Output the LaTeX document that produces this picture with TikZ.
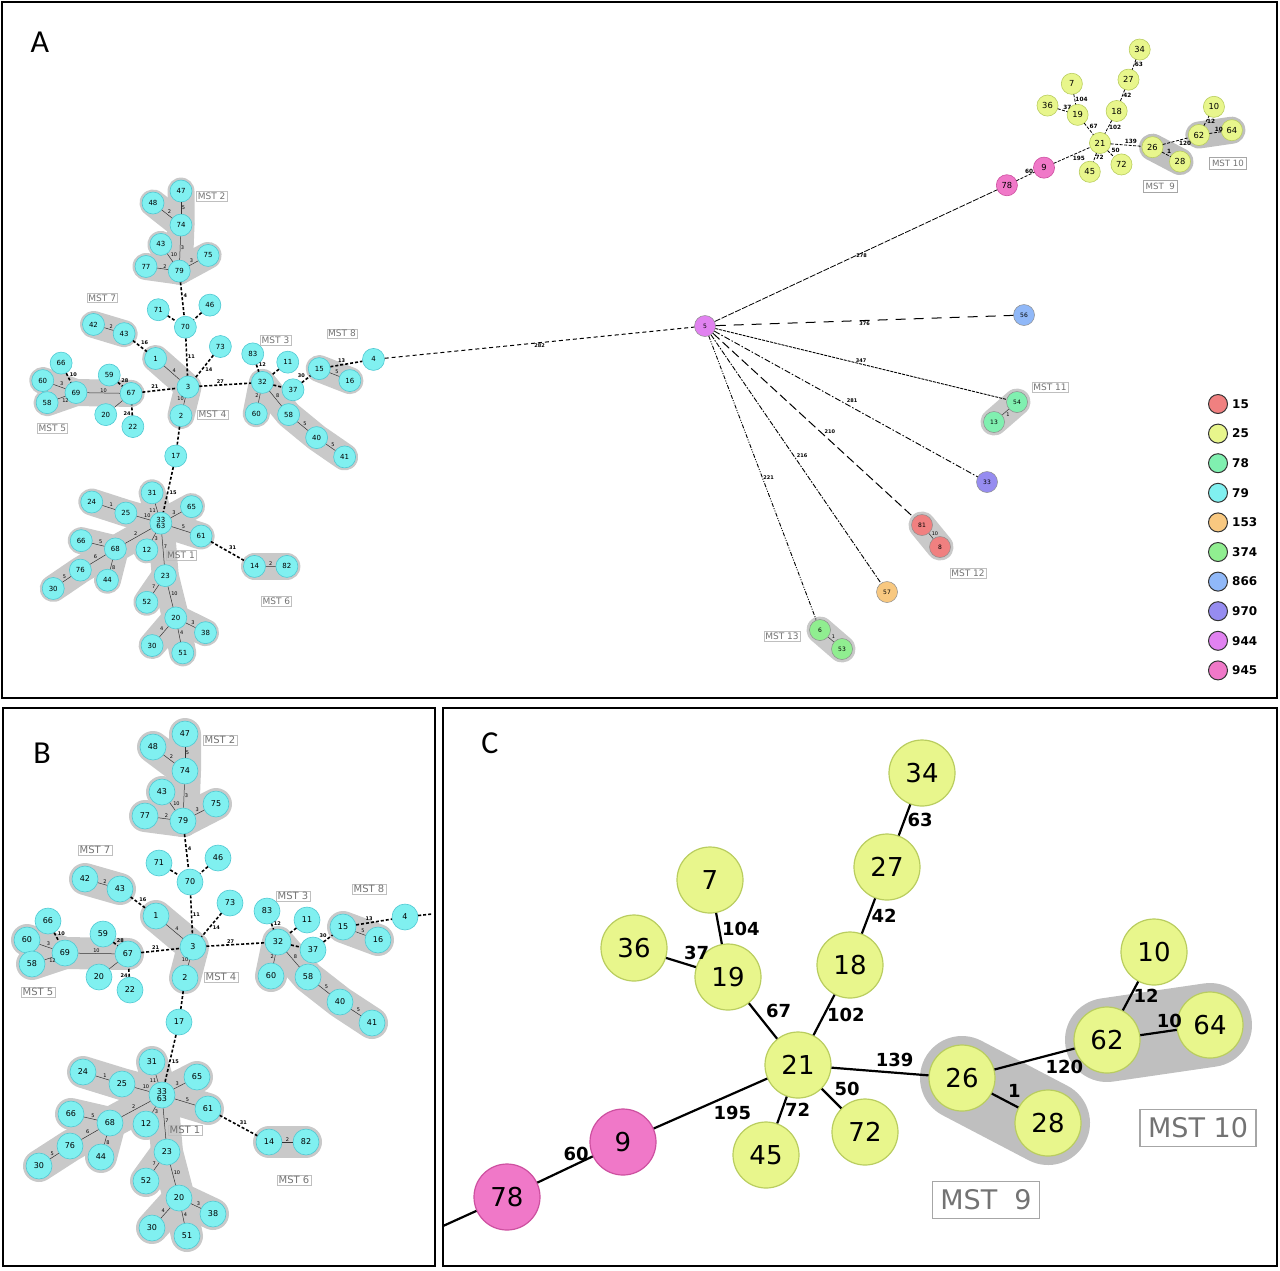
\documentclass[tikz,border=0pt]{standalone}
\usepackage{fontspec}
\setmainfont{DejaVu Sans}
\newfontfamily\panelfont{Carlito}
\usepackage{tikz}
\pgfdeclarelayer{bg}
\pgfsetlayers{bg,main}

\definecolor{cyanfill}{RGB}{128,240,240}
\definecolor{cyanline}{RGB}{80,200,210}
\definecolor{yelfill}{RGB}{232,246,140}
\definecolor{yelline}{RGB}{185,205,95}
\definecolor{pinkfill}{RGB}{240,120,200}
\definecolor{pinkline}{RGB}{205,80,160}
\definecolor{st15}{RGB}{240,128,128}
\definecolor{st78}{RGB}{128,240,176}
\definecolor{st153}{RGB}{248,200,128}
\definecolor{st374}{RGB}{144,238,144}
\definecolor{st866}{RGB}{144,184,248}
\definecolor{st970}{RGB}{150,140,240}
\definecolor{st944}{RGB}{225,130,240}

\tikzset{
  cn/.style={circle, fill=cyanfill, draw=cyanline, line width=0.6pt, inner sep=0pt, minimum size=26, font=\fontsize{8}{8}\selectfont},
  sn/.style={circle, draw=black!45, line width=0.5pt, inner sep=0pt, minimum size=21, font=\fontsize{6}{6}\selectfont},
  ln/.style={line width=0.5pt, draw=black!80},
  lk/.style={line width=1.6pt, dash pattern=on 3pt off 2pt},
  el/.style={font=\fontsize{5}{5}\selectfont, inner sep=0.5pt, auto},
  elb/.style={el, font=\bfseries\fontsize{5}{5}\selectfont},
  grp/.style={line width=32, draw=black!21, line cap=round, line join=round},
  mst/.style={draw=black!25, line width=0.4pt, text=black!55, font=\fontsize{10}{10}\selectfont, inner sep=1.5pt},
  yn/.style={circle, fill=yelfill, draw=yelline, line width=1.2pt, inner sep=0pt, minimum size=66, font=\fontsize{26}{26}\selectfont},
  pn/.style={yn, fill=pinkfill, draw=pinkline},
  yl/.style={line width=2.2pt},
  yel/.style={font=\bfseries\fontsize{18}{18}\selectfont, inner sep=2pt},
  ygrp/.style={line width=84, draw=black!25, line cap=round},
  ymst/.style={draw=black!35, line width=1.5pt, text=black!55, font=\fontsize{27}{27}\selectfont, inner xsep=8, minimum height=37},
  lg/.style={circle, draw=black!80, line width=1pt, inner sep=0pt, minimum size=19},
  lt/.style={anchor=west, font=\bfseries\fontsize{12}{12}\selectfont, inner sep=1pt},
  pl/.style={font=\panelfont\fontsize{32}{32}\selectfont}
}

% ST79 minimum spanning tree, coordinates relative to node 3
\newcommand{\stcluster}{%
  % MST 2
  \node[cn] (n47) at (-8,-213) {47};
  \node[cn] (n48) at (-40,-200) {48};
  \node[cn] (n74) at (-8,-176) {74};
  \node[cn] (n43u) at (-31,-155) {43};
  \node[cn] (n75) at (23,-143) {75};
  \node[cn] (n77) at (-48,-131) {77};
  \node[cn] (n79) at (-10,-126) {79};
  % centre
  \node[cn] (n71) at (-34,-84) {71};
  \node[cn] (n46) at (25,-89) {46};
  \node[cn] (n70) at (-3,-65) {70};
  \node[cn] (n42) at (-108,-68) {42};
  \node[cn] (n43) at (-73,-58) {43};
  \node[cn] (n1) at (-37,-31) {1};
  \node[cn] (n73) at (37,-44) {73};
  \node[cn] (n3) at (0,0) {3};
  \node[cn] (n2) at (-8,31) {2};
  % MST 5
  \node[cn] (n66) at (-145,-26) {66};
  \node[cn] (n60) at (-166,-7) {60};
  \node[cn] (n69) at (-128,6) {69};
  \node[cn] (n58) at (-161,17) {58};
  \node[cn] (n59) at (-90,-13) {59};
  \node[cn] (n67) at (-65,7) {67};
  \node[cn] (n20) at (-94,30) {20};
  \node[cn] (n22) at (-63,43) {22};
  % MST 3 and MST 8
  \node[cn] (n83) at (74,-36) {83};
  \node[cn] (n11) at (114,-27) {11};
  \node[cn] (n32) at (85,-5) {32};
  \node[cn] (n37) at (120,3) {37};
  \node[cn] (n60r) at (78,29) {60};
  \node[cn] (n58r) at (115,30) {58};
  \node[cn] (n40) at (147,55) {40};
  \node[cn] (n41) at (179,76) {41};
  \node[cn] (n15) at (150,-20) {15};
  \node[cn] (n16) at (185,-7) {16};
  \node[cn] (n4) at (212,-30) {4};
  % MST 1 and MST 6
  \node[cn] (n17) at (-14,75) {17};
  \node[cn] (n31) at (-41,115) {31};
  \node[cn] (n24) at (-110,125) {24};
  \node[cn] (n25) at (-71,137) {25};
  \node[cn, align=center] (n33) at (-31,148) {33\\[-1pt]63};
  \node[cn] (n65) at (4,130) {65};
  \node[cn] (n61) at (15,162) {61};
  \node[cn] (n66l) at (-122,167) {66};
  \node[cn] (n68) at (-83,176) {68};
  \node[cn] (n12) at (-47,177) {12};
  \node[cn] (n76) at (-123,199) {76};
  \node[cn] (n44) at (-92,210) {44};
  \node[cn] (n30l) at (-154,219) {30};
  \node[cn] (n23) at (-26,205) {23};
  \node[cn] (n52) at (-47,234) {52};
  \node[cn] (n20b) at (-14,251) {20};
  \node[cn] (n38) at (20,267) {38};
  \node[cn] (n30b) at (-41,281) {30};
  \node[cn] (n51) at (-6,289) {51};
  \node[cn] (n14) at (76,195) {14};
  \node[cn] (n82) at (113,195) {82};
  % group names
  \node[mst] (m2) at (27,-207) {MST 2};
  \node[mst] (m7) at (-98,-97) {MST 7};
  \node[mst] (m4) at (28,30) {MST 4};
  \node[mst] (m5) at (-155,45) {MST 5};
  \node[mst] (m3) at (100,-51) {MST 3};
  \node[mst] (m8) at (176,-58) {MST 8};
  \node[mst] (m1) at (-8,183) {MST 1};
  \node[mst] (m6) at (101,233) {MST 6};
  % grey hulls
  \begin{pgfonlayer}{bg}
    \draw[grp] (n47.center) -- (n74.center) -- (n79.center);
    \draw[grp] (n48.center) -- (n74.center);
    \draw[grp] (n43u.center) -- (n79.center);
    \draw[grp] (n77.center) -- (n79.center) -- (n75.center);
    \draw[grp] (n42.center) -- (n43.center);
    \draw[grp] (n1.center) -- (n3.center) -- (n2.center);
    \draw[grp] (n60.center) -- (n69.center) -- (n67.center);
    \draw[grp] (n58.center) -- (n69.center);
    \draw[grp] (n60r.center) -- (n32.center) -- (n58r.center) -- (n40.center) -- (n41.center);
    \draw[grp] (n15.center) -- (n16.center);
    \draw[grp] (n24.center) -- (n25.center) -- (n33.center) -- (n61.center);
    \draw[grp] (n31.center) -- (n33.center) -- (n65.center);
    \draw[grp] (n30l.center) -- (n76.center) -- (n68.center) -- (n33.center) -- (n23.center) -- (n20b.center) -- (n51.center);
    \draw[grp] (n66l.center) -- (n68.center) -- (n44.center);
    \draw[grp] (n12.center) -- (n33.center);
    \draw[grp] (n52.center) -- (n23.center);
    \draw[grp] (n30b.center) -- (n20b.center) -- (n38.center);
    \draw[grp] (n14.center) -- (n82.center);
  \end{pgfonlayer}
  % links inside the groups
  \draw[ln] (n47) -- node[el] {5} (n74);
  \draw[ln] (n48) -- node[el] {2} (n74);
  \draw[ln] (n74) -- node[el] {3} (n79);
  \draw[ln] (n43u) -- node[el] {10} (n79);
  \draw[ln] (n77) -- node[el] {2} (n79);
  \draw[ln] (n79) -- node[el] {3} (n75);
  \draw[ln] (n42) -- node[el] {2} (n43);
  \draw[ln] (n1) -- node[el] {4} (n3);
  \draw[ln] (n3) -- node[el, swap] {10} (n2);
  \draw[ln] (n60) -- node[el] {3} (n69);
  \draw[ln] (n58) -- node[el, swap] {12} (n69);
  \draw[ln] (n69) -- node[el] {10} (n67);
  \draw[ln] (n20) -- (n67);
  \draw[ln] (n32) -- node[el, swap] {2} (n60r);
  \draw[ln] (n32) -- node[el] {8} (n58r);
  \draw[ln] (n58r) -- node[el] {5} (n40);
  \draw[ln] (n40) -- node[el] {5} (n41);
  \draw[ln] (n15) -- node[el] {5} (n16);
  \draw[ln] (n31) -- node[el, swap] {11} (n33);
  \draw[ln] (n24) -- node[el] {1} (n25);
  \draw[ln] (n25) -- node[el] {10} (n33);
  \draw[ln] (n65) -- node[el, swap] {3} (n33);
  \draw[ln] (n33) -- node[el] {5} (n61);
  \draw[ln] (n68) -- node[el] {2} (n33);
  \draw[ln] (n12) -- node[el, swap] {3} (n33);
  \draw[ln] (n66l) -- node[el] {5} (n68);
  \draw[ln] (n76) -- node[el] {6} (n68);
  \draw[ln] (n44) -- node[el, swap] {8} (n68);
  \draw[ln] (n30l) -- node[el] {5} (n76);
  \draw[ln] (n33) -- node[el] {7} (n23);
  \draw[ln] (n23) -- node[el, swap] {7} (n52);
  \draw[ln] (n23) -- node[el] {10} (n20b);
  \draw[ln] (n20b) -- node[el] {3} (n38);
  \draw[ln] (n20b) -- node[el, swap] {4} (n30b);
  \draw[ln] (n20b) -- node[el] {4} (n51);
  \draw[ln] (n14) -- node[el] {2} (n82);
  % links between the groups
  \draw[lk] (n79) -- node[elb] {4} (n70);
  \draw[lk] (n71) -- (n70);
  \draw[lk] (n46) -- (n70);
  \draw[lk] (n70) -- node[elb] {11} (n3);
  \draw[lk] (n43) -- node[elb] {16} (n1);
  \draw[lk] (n73) -- node[elb] {14} (n3);
  \draw[lk] (n67) -- node[elb] {21} (n3);
  \draw[lk] (n66) -- node[elb] {10} (n69);
  \draw[lk] (n59) -- node[elb] {28} (n67);
  \draw[lk] (n22) -- node[elb] {24} (n67);
  \draw[lk] (n3) -- node[elb] {27} (n32);
  \draw[lk] (n83) -- node[elb] {12} (n32);
  \draw[lk] (n11) -- (n32);
  \draw[lk] (n32) -- (n37);
  \draw[lk] (n37) -- node[elb] {30} (n15);
  \draw[lk] (n15) -- node[elb] {13} (n4);
  \draw[lk] (n2) -- (n17);
  \draw[lk] (n17) -- node[elb] {15} (n33);
  \draw[lk] (n61) -- node[elb] {31} (n14);
}

% ST25 tree, coordinates relative to node 21
\newcommand{\styellow}{%
  \node[yn] (n34) at (124,-292) {34};
  \node[yn] (n27) at (89,-198) {27};
  \node[yn] (n18) at (52,-100) {18};
  \node[yn] (n7) at (-88,-185) {7};
  \node[yn] (n36) at (-164,-117) {36};
  \node[yn] (n19) at (-70,-88) {19};
  \node[yn] (n21) at (0,0) {21};
  \node[yn] (n45) at (-32,90) {45};
  \node[yn] (n72) at (67,67) {72};
  \node[yn] (n26) at (164,13) {26};
  \node[yn] (n28) at (250,58) {28};
  \node[yn] (n62) at (309,-25) {62};
  \node[yn] (n10) at (356,-113) {10};
  \node[yn] (n64) at (412,-40) {64};
  \node[pn] (n9) at (-175,77) {9};
  \node[pn] (n78) at (-291,132) {78};
  \node[ymst] (m9) at (188,135) {MST\ \ 9};
  \node[ymst] (m10) at (400,63) {MST 10};
  \begin{pgfonlayer}{bg}
    \draw[ygrp] (n26.center) -- (n28.center);
    \draw[ygrp] (n62.center) -- (n64.center);
  \end{pgfonlayer}
  \draw[yl] (n34) -- node[yel, right] {63} (n27);
  \draw[yl] (n27) -- node[yel, right] {42} (n18);
  \draw[yl] (n18) -- node[yel, right] {102} (n21);
  \draw[yl] (n7) -- node[yel, right] {104} (n19);
  \draw[yl] (n36) -- node[yel, above right] {37} (n19);
  \draw[yl] (n19) -- node[yel, above right] {67} (n21);
  \draw[yl] (n21) -- node[yel, right] {72} (n45);
  \draw[yl] (n21) -- node[yel, above right] {50} (n72);
  \draw[yl] (n21) -- node[yel, pos=0.65, above=3pt] {139} (n26);
  \draw[yl] (n26) -- node[yel, pos=0.6, below right] {120} (n62);
  \draw[yl] (n26) -- node[yel, above right] {1} (n28);
  \draw[yl] (n62) -- node[yel, right] {12} (n10);
  \draw[yl] (n62) -- node[yel, pos=0.8, above] {10} (n64);
  \draw[yl] (n9) -- node[yel, below right] {195} (n21);
  \draw[yl] (n78) -- node[yel, pos=0.7, above] {60} (n9);
}

\begin{document}
\begin{tikzpicture}[x=1pt, y=-1pt]
\useasboundingbox (0,0) rectangle (1280,1270);
% frames
\draw[line width=1.2pt] (2,2) rectangle (1277,698);
\draw[line width=1.2pt] (3,708) rectangle (435,1266);
\draw[line width=1.2pt] (443,708) rectangle (1277,1266);
\node[pl] (pa) at (40,42) {A};
\node[pl] (pb) at (42,753) {B};
\node[pl] (pc) at (490,743) {C};

% panel A
\begin{scope}[shift={(188,387)}, xscale=0.875, yscale=0.92, name prefix=a-,
  cn/.append style={minimum size=22, font=\fontsize{7}{7}\selectfont},
  grp/.append style={line width=27}, mst/.append style={font=\fontsize{9}{9}\selectfont}]
  \stcluster
\end{scope}
\begin{scope}[shift={(1100,143)}, scale=0.32, transform shape, name prefix=ya-,
  yn/.append style={line width=0.6pt}, yl/.style={line width=0.8pt, dash pattern=on 3pt off 1.5pt},
  ygrp/.append style={line width=27}, ymst/.append style={line width=0.5pt}]
  \styellow
\end{scope}
\node[sn, fill=st944] (s5) at (705,326) {5};
\node[sn, fill=st866] (s56) at (1024,315) {56};
\node[sn, fill=st78] (s54) at (1017,402) {54};
\node[sn, fill=st78] (s13) at (994,422) {13};
\node[sn, fill=st970] (s33) at (987,482) {33};
\node[sn, fill=st15] (s81) at (922,525) {81};
\node[sn, fill=st15] (s8) at (940,547) {8};
\node[sn, fill=st153] (s57) at (887,592) {57};
\node[sn, fill=st374] (s6) at (820,630) {6};
\node[sn, fill=st374] (s53) at (842,649) {53};
\node[mst, font=\fontsize{9}{9}\selectfont] (m11) at (1050,387) {MST 11};
\node[mst, font=\fontsize{9}{9}\selectfont] (m12) at (968,573) {MST 12};
\node[mst, font=\fontsize{9}{9}\selectfont] (m13) at (782,636) {MST 13};
\begin{pgfonlayer}{bg}
  \draw[grp, line width=27] (s54.center) -- (s13.center);
  \draw[grp, line width=27] (s81.center) -- (s8.center);
  \draw[grp, line width=27] (s6.center) -- (s53.center);
\end{pgfonlayer}
\draw[ln] (s54) -- node[el] {1} (s13);
\draw[ln] (s81) -- node[el] {10} (s8);
\draw[ln] (s6) -- node[el] {1} (s53);
\draw[line width=0.8pt, dash pattern=on 6pt off 1.5pt] (s5) -- node[elb, pos=0.52, below] {278} (ya-n78);
\draw[line width=1pt, dash pattern=on 10pt off 8pt] (s5) -- node[elb, pos=0.5, below] {376} (s56);
\draw[line width=0.9pt, dash pattern=on 3pt off 1pt] (s5) -- node[elb, pos=0.5, above] {347} (s54);
\draw[line width=0.9pt, dash pattern=on 6pt off 2pt on 1.5pt off 2pt] (s5) -- node[elb, pos=0.5, above right] {281} (s33);
\draw[line width=1pt, dash pattern=on 9pt off 4pt] (s5) -- node[elb, pos=0.55, above right] {210} (s81);
\draw[line width=0.9pt, dash pattern=on 5pt off 1.5pt on 1.5pt off 1.5pt] (s5) -- node[elb, pos=0.5, above right] {216} (s57);
\draw[line width=0.9pt, dash pattern=on 4pt off 1.5pt on 1pt off 1.5pt on 1pt off 1.5pt] (s5) -- node[elb, pos=0.5, right] {221} (s6);
\draw[line width=1pt, dash pattern=on 4pt off 3pt] (a-n4) -- node[elb, pos=0.5, below] {282} (s5);
% legend
\foreach \c/\t [count=\i from 0] in {st15/15, yelfill/25, st78/78, cyanfill/79, st153/153, st374/374, st866/866, st970/970, st944/944, pinkfill/945} {
  \node[lg, fill=\c] (lg\i) at (1218, {404+29.6*\i}) {};
  \node[lt, xshift=3pt] (lt\i) at (lg\i.east) {\t};
}

% panel B
\begin{scope}[shift={(193,947)}, name prefix=b-]
  \stcluster
\end{scope}
\coordinate (bout) at (432,914);
\draw[lk] (b-n4) -- (bout);

% panel C
\begin{scope}[shift={(798,1065)}, name prefix=c-]
  \styellow
\end{scope}
\coordinate (cout) at (443,1226);
\draw[yl] (c-n78) -- (cout);
\end{tikzpicture}
\end{document}
